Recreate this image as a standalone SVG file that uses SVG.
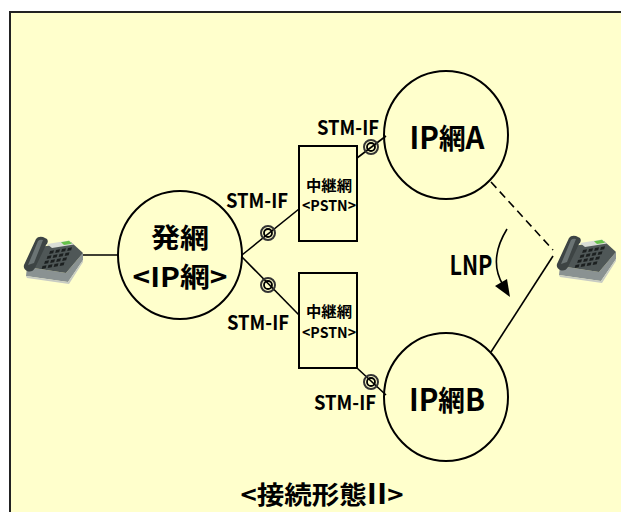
<svg xmlns="http://www.w3.org/2000/svg" xmlns:xlink="http://www.w3.org/1999/xlink" width="621" height="512" viewBox="0 0 621 512">
  <style>
    .t { font-family: "Noto Sans CJK JP", "Noto Sans CJK SC", sans-serif; font-weight: bold; fill: #000; text-anchor: middle; }
    .big { font-size: 28px; }
    .org { font-size: 27px; }
    .mid { font-size: 15px; }
    .stm { font-size: 20px; }
    .lat { font-size: 31px; }
    .net { fill: none; stroke: #000; stroke-width: 2; }
    .box { fill: none; stroke: #000; stroke-width: 2; }
    .wire { fill: none; stroke: #000; stroke-width: 1.6; }
    .dash { fill: none; stroke: #000; stroke-width: 1.6; stroke-dasharray: 8 5; }
    .ring-o { fill: none; stroke: #333; stroke-width: 2; }
    .ring-i { fill: none; stroke: #000; stroke-width: 1.8; }
  </style>
  <defs>
    <!-- interface point: double ring -->
    <g id="ifmark">
      <circle r="7" class="ring-o"/>
      <circle r="4" class="ring-i"/>
    </g>
    <!-- one key of the telephone keypad -->
    <polygon id="key" points="0,0 4,-0.7 3.2,2.3 -0.8,3" fill="#1c2020"/>
    <!-- desk telephone icon, about 62 x 48 -->
    <g id="phone">
      <!-- lower edge / base -->
      <polygon points="5,32 44,38 61,18 61,25 46,47 4,41" fill="#8a9292"/>
      <polygon points="4,41 46,47 61,25 61,27 47,49 5,43" fill="#c7cbc3"/>
      <!-- keypad face -->
      <polygon points="12,13 49,7 61,18 44,38 5,32" fill="#4f5757"/>
      <!-- display -->
      <polygon points="25,9 47,5.5 52,9.5 30,13" fill="#d9ddd6"/>
      <polygon points="39,7.3 47,5.8 50,8.7 42,10" fill="#66c24a"/>
      <!-- keys -->
      <use xlink:href="#key" x="28" y="16"/>
      <use xlink:href="#key" x="34" y="15"/>
      <use xlink:href="#key" x="40" y="14"/>
      <use xlink:href="#key" x="46" y="13"/>
      <use xlink:href="#key" x="25.5" y="21"/>
      <use xlink:href="#key" x="31.5" y="20"/>
      <use xlink:href="#key" x="37.5" y="19"/>
      <use xlink:href="#key" x="43.5" y="18"/>
      <use xlink:href="#key" x="23" y="26"/>
      <use xlink:href="#key" x="29" y="25"/>
      <use xlink:href="#key" x="35" y="24"/>
      <use xlink:href="#key" x="41" y="23"/>
      <use xlink:href="#key" x="20.5" y="31"/>
      <use xlink:href="#key" x="26.5" y="30"/>
      <use xlink:href="#key" x="32.5" y="29"/>
      <use xlink:href="#key" x="38.5" y="28"/>
      <!-- handset -->
      <path d="M2,30 L14,4 Q16,1 21,2 L25,4 Q27,7 24,10 L13,33 Q10,38 5,36 Q1,34 2,30 Z" fill="#3d4444"/>
      <path d="M6,30 L16,6 Q18,4 21,5 L12,28 Z" fill="#6b7474"/>
    </g>
  </defs>

  <!-- page and frame -->
  <rect x="0" y="0" width="621" height="512" fill="#ffffff"/>
  <rect x="10" y="12" width="630" height="520" fill="#ffffcc" stroke="#222" stroke-width="2"/>

  <!-- connectors -->
  <g id="connectors">
    <line x1="83" y1="255" x2="118" y2="255" class="wire"/>
    <line x1="242" y1="255" x2="299" y2="209" class="wire"/>
    <line x1="242" y1="257" x2="299" y2="315" class="wire"/>
    <line x1="357" y1="158" x2="386" y2="136" class="wire"/>
    <line x1="357" y1="368" x2="386" y2="395" class="wire"/>
    <line x1="491" y1="182" x2="553" y2="250" class="dash"/>
    <line x1="553" y1="256" x2="491" y2="352" class="wire"/>
    <!-- LNP arrow -->
    <path d="M507,229 Q488,260 503,285" class="wire"/>
    <polygon points="495,286 510,297 507,279" fill="#000"/>
    <use xlink:href="#ifmark" x="268" y="233"/>
    <use xlink:href="#ifmark" x="268" y="285"/>
    <use xlink:href="#ifmark" x="371" y="147"/>
    <use xlink:href="#ifmark" x="371" y="382"/>
  </g>

  <!-- nodes -->
  <g id="phone-left">
    <use xlink:href="#phone" x="22" y="235"/>
  </g>
  <g id="phone-right">
    <use xlink:href="#phone" x="555" y="234"/>
  </g>

  <g id="net-origin">
    <ellipse cx="180" cy="255" rx="62" ry="64" class="net"/>
    <text x="180" y="248" class="t org" textLength="58" lengthAdjust="spacingAndGlyphs">発網</text>
    <text x="180" y="287" class="t org" textLength="95" lengthAdjust="spacingAndGlyphs">&lt;IP網&gt;</text>
  </g>

  <g id="net-a">
    <ellipse cx="446" cy="135" rx="62" ry="64" class="net"/>
    <text x="447" y="149" class="t big" textLength="75" lengthAdjust="spacingAndGlyphs"><tspan class="lat">IP</tspan>網<tspan class="lat">A</tspan></text>
  </g>

  <g id="net-b">
    <ellipse cx="446" cy="397" rx="62" ry="64" class="net"/>
    <text x="447" y="411" class="t big" textLength="76" lengthAdjust="spacingAndGlyphs"><tspan class="lat">IP</tspan>網<tspan class="lat">B</tspan></text>
  </g>

  <g id="transit-upper">
    <rect x="299" y="146" width="58" height="95" class="box"/>
    <text x="329" y="191" class="t mid" textLength="46" lengthAdjust="spacingAndGlyphs">中継網</text>
    <text x="329" y="211" class="t mid" textLength="54" lengthAdjust="spacingAndGlyphs">&lt;PSTN&gt;</text>
  </g>

  <g id="transit-lower">
    <rect x="299" y="273" width="58" height="95" class="box"/>
    <text x="329" y="317" class="t mid" textLength="46" lengthAdjust="spacingAndGlyphs">中継網</text>
    <text x="329" y="338" class="t mid" textLength="54" lengthAdjust="spacingAndGlyphs">&lt;PSTN&gt;</text>
  </g>

  <!-- interface labels -->
  <g id="labels">
    <text x="348" y="135" class="t stm" textLength="62" lengthAdjust="spacingAndGlyphs">STM-IF</text>
    <text x="257" y="208" class="t stm" textLength="62" lengthAdjust="spacingAndGlyphs">STM-IF</text>
    <text x="258" y="330" class="t stm" textLength="62" lengthAdjust="spacingAndGlyphs">STM-IF</text>
    <text x="345" y="410" class="t stm" textLength="62" lengthAdjust="spacingAndGlyphs">STM-IF</text>
    <text x="471" y="275" class="t" font-size="27" textLength="43" lengthAdjust="spacingAndGlyphs">LNP</text>
    <text x="322" y="504" class="t" font-size="25" textLength="163" lengthAdjust="spacingAndGlyphs">&lt;接続形態<tspan font-size="28">II</tspan>&gt;</text>
  </g>
</svg>
